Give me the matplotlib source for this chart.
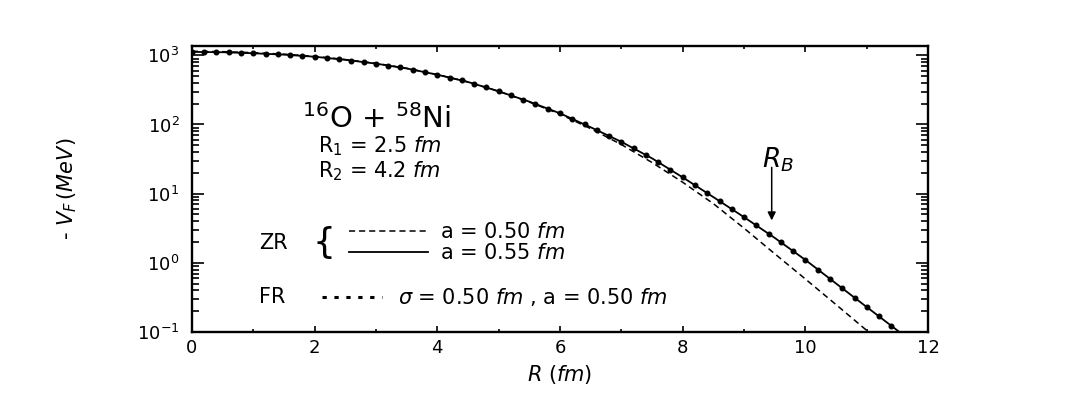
import numpy as np
import matplotlib
matplotlib.use('Agg')
import matplotlib.pyplot as plt
from matplotlib.ticker import MultipleLocator, LogLocator

# ZR, a = 0.55 fm (trait plein)
r_zr55 = [0.0, 0.5, 1.0, 1.5, 2.0, 2.5, 3.0, 3.5, 4.0, 4.5, 5.0, 5.5, 6.0,
          6.5, 7.0, 7.5, 8.0, 8.5, 9.0, 9.5, 10.0, 10.5, 11.0, 11.5, 11.6]
v_zr55 = [1122, 1109, 1072, 1023, 955, 861, 759, 646, 525, 412, 302, 214, 145,
          91.2, 56.2, 32.4, 17.2, 8.91, 4.57, 2.29, 1.10, 0.501, 0.229, 0.105, 0.089]

# ZR, a = 0.50 fm (tirets)
r_zr50 = [0.0, 0.5, 1.0, 1.5, 2.0, 2.5, 3.0, 3.5, 4.0, 4.5, 5.0, 5.5, 6.0,
          6.5, 7.0, 7.5, 8.0, 8.5, 9.0, 9.5, 10.0, 10.5, 11.0, 11.1]
v_zr50 = [1145, 1132, 1093, 1040, 968, 870, 765, 650, 527, 412, 302, 211, 141,
          87.1, 51.3, 28.2, 14.6, 7.16, 3.16, 1.35, 0.582, 0.248, 0.105, 0.088]

# FR, sigma = 0.50 fm, a = 0.50 fm (points)
r_fr = [0.0, 0.2, 0.4, 0.6, 0.8, 1.0, 1.2, 1.4, 1.6, 1.8, 2.0, 2.2, 2.4, 2.6,
        2.8, 3.0, 3.2, 3.4, 3.6, 3.8, 4.0, 4.2, 4.4, 4.6, 4.8, 5.0, 5.2, 5.4,
        5.6, 5.8, 6.0, 6.2, 6.4, 6.6, 6.8, 7.0, 7.2, 7.4, 7.6, 7.8, 8.0, 8.2,
        8.4, 8.6, 8.8, 9.0, 9.2, 9.4, 9.6, 9.8, 10.0, 10.2, 10.4, 10.6, 10.8,
        11.0, 11.2, 11.4]
v_fr = [1122, 1119, 1112, 1104, 1089, 1072, 1052, 1033, 1012, 984, 955, 918,
        879, 841, 800, 759, 713, 668, 622, 573, 525, 478, 434, 390, 344, 302,
        264, 229, 198, 170, 145, 121, 100, 82.8, 68.2, 56.2, 45.2, 36.1, 28.6,
        22.2, 17.2, 13.2, 10.2, 7.80, 5.97, 4.57, 3.47, 2.63, 1.98, 1.48, 1.10,
        0.80, 0.586, 0.429, 0.313, 0.229, 0.168, 0.122]

r_barrier = 9.45

plt.rcParams['font.family'] = ['DejaVu Sans']
plt.rcParams['mathtext.fontset'] = 'dejavusans'

fig = plt.figure(figsize=(10.78, 3.99), dpi=100)
ax = fig.add_axes([0.178, 0.168, 0.683, 0.717])

ax.plot(r_zr50, v_zr50, color='k', lw=1.1, dashes=(4, 2.6))
ax.plot(r_zr55, v_zr55, color='k', lw=1.3)
ax.plot(r_fr, v_fr, color='k', ls='none', marker='o', ms=3.3)

ax.set_yscale('log')
ax.set_xlim(0, 12)
ax.set_ylim(0.1, 1370)
ax.xaxis.set_major_locator(MultipleLocator(2))
ax.xaxis.set_minor_locator(MultipleLocator(1))
ax.yaxis.set_major_locator(LogLocator(base=10, numticks=10))
ax.yaxis.set_minor_locator(LogLocator(base=10, subs=np.arange(2, 10), numticks=20))

for s in ax.spines.values():
    s.set_linewidth(1.7)
ax.tick_params(which='both', direction='in', top=True, right=True, width=1.2, labelsize=13)
ax.tick_params(axis='x', which='major', length=4, pad=5)
ax.tick_params(axis='x', which='minor', length=2.5)
ax.tick_params(axis='y', which='major', length=8.5, pad=9)
ax.tick_params(axis='y', which='minor', length=5)

ax.set_xlabel(r'$R$ ($fm$)', fontsize=15)
ax.xaxis.set_label_coords(0.5, -0.15)
ax.xaxis.label.set_va('center')
ax.set_ylabel(r'- $V_F\,(MeV)$', fontsize=15)
ax.yaxis.set_label_coords(-0.17, 0.5)
ax.yaxis.label.set_va('center')

# textes
ax.text(0.149, 0.713, r'$^{16}$O + $^{58}$Ni', transform=ax.transAxes,
        fontsize=21, va='baseline')
ax.text(0.171, 0.629, r'R$_1$ = 2.5 $fm$', transform=ax.transAxes,
        fontsize=15, va='baseline')
ax.text(0.171, 0.542, r'R$_2$ = 4.2 $fm$', transform=ax.transAxes,
        fontsize=15, va='baseline')

ax.text(0.091, 0.311, 'ZR', transform=ax.transAxes, fontsize=15, va='center')
ax.text(0.179, 0.311, '{', transform=ax.transAxes, fontsize=26, va='center', ha='center')
ax.plot([0.214, 0.321], [0.353, 0.353], transform=ax.transAxes, color='k',
        lw=1.1, dashes=(4, 2.6))
ax.text(0.337, 0.350, r'a = 0.50 $fm$', transform=ax.transAxes, fontsize=15, va='center')
ax.plot([0.214, 0.321], [0.280, 0.280], transform=ax.transAxes, color='k', lw=1.3)
ax.text(0.337, 0.276, r'a = 0.55 $fm$', transform=ax.transAxes, fontsize=15, va='center')

ax.text(0.091, 0.122, 'FR', transform=ax.transAxes, fontsize=15, va='center')
ax.plot([0.177, 0.258], [0.122, 0.122], transform=ax.transAxes, color='k',
        lw=2.2, dashes=(1.4, 2.5))
ax.text(0.280, 0.122, r'$\sigma$ = 0.50 $fm$ , a = 0.50 $fm$', transform=ax.transAxes,
        fontsize=15, va='center')

ax.text(9.3, 30.6, r'$R_B$', fontsize=19, va='center')
ax.annotate('', xy=(r_barrier, 4.1), xytext=(r_barrier, 24),
            arrowprops=dict(arrowstyle='-|>', color='k', lw=1.1,
                            mutation_scale=12, shrinkA=0, shrinkB=0))

fig.savefig('out.png', dpi=100)
